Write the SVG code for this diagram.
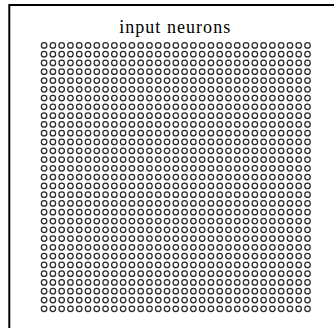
<svg xmlns="http://www.w3.org/2000/svg" xmlns:xlink="http://www.w3.org/1999/xlink" width="334" height="328" viewBox="0 0 334 328">
<style>
.n{fill:none;stroke:#2a2a2a;stroke-width:1.25}
.frame{stroke:#000;stroke-width:2;fill:none}
.lbl{font-family:"Liberation Serif","DejaVu Serif",serif;font-size:18px;fill:#000}
</style>
<defs>
<g id="row">
<circle class="n" cx="0" cy="0" r="2.75"/><circle class="n" cx="8.78" cy="0" r="2.75"/><circle class="n" cx="17.56" cy="0" r="2.75"/><circle class="n" cx="26.34" cy="0" r="2.75"/><circle class="n" cx="35.12" cy="0" r="2.75"/><circle class="n" cx="43.9" cy="0" r="2.75"/><circle class="n" cx="52.68" cy="0" r="2.75"/><circle class="n" cx="61.46" cy="0" r="2.75"/><circle class="n" cx="70.24" cy="0" r="2.75"/><circle class="n" cx="79.02" cy="0" r="2.75"/><circle class="n" cx="87.8" cy="0" r="2.75"/><circle class="n" cx="96.58" cy="0" r="2.75"/><circle class="n" cx="105.36" cy="0" r="2.75"/><circle class="n" cx="114.14" cy="0" r="2.75"/><circle class="n" cx="122.92" cy="0" r="2.75"/><circle class="n" cx="131.7" cy="0" r="2.75"/><circle class="n" cx="140.48" cy="0" r="2.75"/><circle class="n" cx="149.26" cy="0" r="2.75"/><circle class="n" cx="158.04" cy="0" r="2.75"/><circle class="n" cx="166.82" cy="0" r="2.75"/><circle class="n" cx="175.6" cy="0" r="2.75"/><circle class="n" cx="184.38" cy="0" r="2.75"/><circle class="n" cx="193.16" cy="0" r="2.75"/><circle class="n" cx="201.94" cy="0" r="2.75"/><circle class="n" cx="210.72" cy="0" r="2.75"/><circle class="n" cx="219.5" cy="0" r="2.75"/><circle class="n" cx="228.28" cy="0" r="2.75"/><circle class="n" cx="237.06" cy="0" r="2.75"/><circle class="n" cx="245.84" cy="0" r="2.75"/><circle class="n" cx="254.62" cy="0" r="2.75"/><circle class="n" cx="263.4" cy="0" r="2.75"/>
</g>
</defs>
<path class="frame" d="M9.3,328 V5 H334"/>
<text class="lbl" x="174.7" y="32.5" text-anchor="middle" textLength="111">input neurons</text>
<g id="input-neurons" transform="translate(44.1,45.4)">
<use xlink:href="#row" y="0"/><use xlink:href="#row" y="8.78"/><use xlink:href="#row" y="17.56"/><use xlink:href="#row" y="26.34"/><use xlink:href="#row" y="35.12"/><use xlink:href="#row" y="43.9"/><use xlink:href="#row" y="52.68"/><use xlink:href="#row" y="61.46"/><use xlink:href="#row" y="70.24"/><use xlink:href="#row" y="79.02"/><use xlink:href="#row" y="87.8"/><use xlink:href="#row" y="96.58"/><use xlink:href="#row" y="105.36"/><use xlink:href="#row" y="114.14"/><use xlink:href="#row" y="122.92"/><use xlink:href="#row" y="131.7"/><use xlink:href="#row" y="140.48"/><use xlink:href="#row" y="149.26"/><use xlink:href="#row" y="158.04"/><use xlink:href="#row" y="166.82"/><use xlink:href="#row" y="175.6"/><use xlink:href="#row" y="184.38"/><use xlink:href="#row" y="193.16"/><use xlink:href="#row" y="201.94"/><use xlink:href="#row" y="210.72"/><use xlink:href="#row" y="219.5"/><use xlink:href="#row" y="228.28"/><use xlink:href="#row" y="237.06"/><use xlink:href="#row" y="245.84"/><use xlink:href="#row" y="254.62"/><use xlink:href="#row" y="263.4"/>
</g>
</svg>
